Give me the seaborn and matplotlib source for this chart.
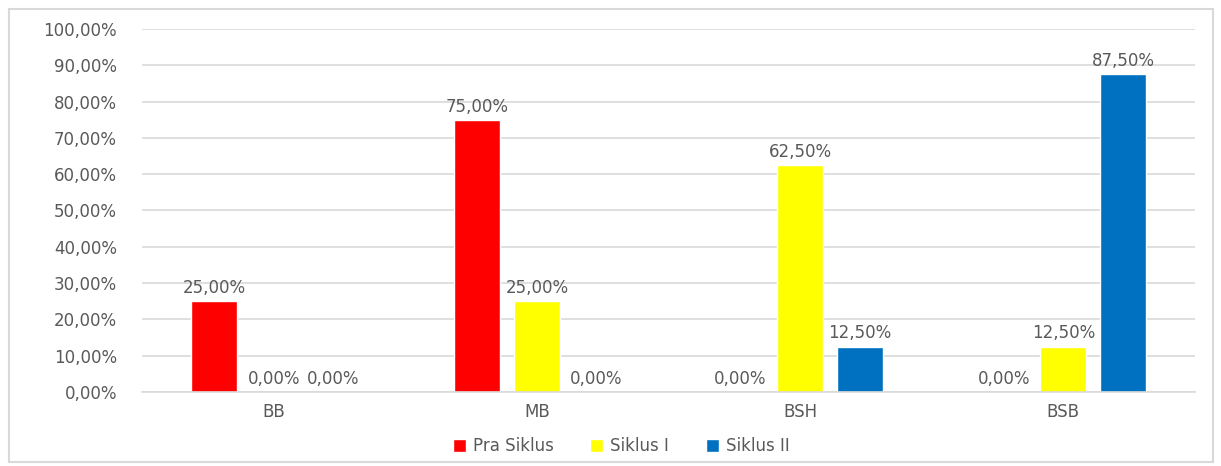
import matplotlib
matplotlib.use("Agg")
import matplotlib.pyplot as plt
import seaborn as sns
import pandas as pd
from matplotlib.patches import Rectangle

# Data
categories = ["BB", "MB", "BSH", "BSB"]
series = ["Pra Siklus", "Siklus I", "Siklus II"]
pra_siklus = [25.0, 75.0, 0.0, 0.0]
siklus_1 = [0.0, 25.0, 62.5, 12.5]
siklus_2 = [0.0, 0.0, 12.5, 87.5]
colors = ["#FF0000", "#FFFF00", "#0070C0"]
y_ticks = list(range(0, 101, 10))

df = pd.DataFrame({
    "kategori": categories * 3,
    "siklus": [s for s in series for _ in categories],
    "nilai": pra_siklus + siklus_1 + siklus_2,
})

sns.set_theme(style="white")
plt.rcParams["font.family"] = ["DejaVu Sans"]
GRAY = "#595959"
FS = 12

fig = plt.figure(figsize=(12.21, 4.66), dpi=100)
ax = fig.add_axes([0.1163, 0.1588, 0.8624, 0.779])

sns.barplot(data=df, x="kategori", y="nilai", hue="siklus", order=categories,
            hue_order=series, palette=colors, width=0.68, gap=0.23,
            saturation=1, ax=ax, legend=True)

ax.set_ylim(0, 100)
ax.set_yticks(y_ticks)
ax.set_yticklabels([f"{t:.2f}%".replace(".", ",") for t in y_ticks])
ax.yaxis.grid(True, color="#d9d9d9", linewidth=1.2)
ax.set_axisbelow(True)
for side in ["top", "right", "left"]:
    ax.spines[side].set_visible(False)
ax.spines["bottom"].set_color("#d9d9d9")
ax.spines["bottom"].set_linewidth(1.2)
ax.tick_params(axis="both", length=0, labelsize=FS, colors=GRAY, pad=8)
ax.tick_params(axis="y", pad=18)
ax.set_xlabel("")
ax.set_ylabel("")

for cont in ax.containers:
    labels = [f"{v:.2f}%".replace(".", ",") for v in cont.datavalues]
    ax.bar_label(cont, labels=labels, padding=3, fontsize=FS, color=GRAY)

handles, labs = ax.get_legend_handles_labels()
ax.legend(handles, labs, loc="center", bbox_to_anchor=(621 / 1221, 1 - 446 / 466),
          bbox_transform=fig.transFigure, ncol=3, frameon=False,
          handlelength=0.8, handleheight=0.8, handletextpad=0.4,
          columnspacing=2.2, fontsize=FS, labelcolor=GRAY)

fig.patches.append(Rectangle((9 / 1221, 4 / 466), 1204 / 1221, 453 / 466,
                             transform=fig.transFigure, fill=False,
                             edgecolor="#d9d9d9", linewidth=1.5))

fig.savefig("out.png", dpi=100)
